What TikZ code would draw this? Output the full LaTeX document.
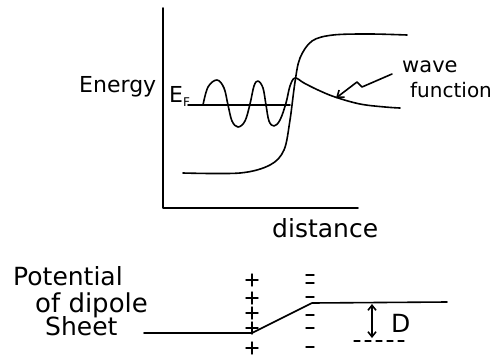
\documentclass[tikz,border=0pt]{standalone}
\usepackage{fontspec}
\setmainfont{DejaVu Sans}
\usetikzlibrary{arrows.meta}
\begin{document}
\begin{tikzpicture}[x=1pt,y=-1pt, line cap=round, line join=round,
  pen/.style={line width=1.6pt},
  lbl/.style={inner sep=0pt, anchor=base west, font=\fontsize{#1}{#1}\selectfont},
  lbl/.default=22,
  barb/.style={-{Straight Barb[length=6pt,width=9pt]}},
  dbarb/.style={{Straight Barb[length=5pt,width=8pt]}-{Straight Barb[length=5pt,width=8pt]}}]
\useasboundingbox (0,0) rectangle (493,357);
% axes
\coordinate (ytop) at (163,8);
\coordinate (origin) at (163,208);
\coordinate (xend) at (358,208);
\draw[pen] (ytop) -- (origin) -- (xend);
% labels
\node[lbl=22] (energy) at (79,92) {Energy};
\node[lbl=22] (ef) at (169,102) {E\raisebox{-4pt}{\fontsize{12}{12}\selectfont F}};
\node[lbl=25] (dist) at (272,237) {distance};
\node[lbl=21] (wave) at (402,72) {wave};
\node[lbl=20] (func) at (410,97) {function};
% Fermi level
\coordinate (efa) at (188,105);
\coordinate (efb) at (290,105);
\draw[pen] (efa) -- (efb);
% potential curve
\draw[pen] plot[smooth, tension=0.55] coordinates {(183,173)(240,173)(270,165)(284,150)(290,120)(295,82)(300,58)(312,41)(333,35)(370,34)(407,35)};
% wave function
\draw[pen] plot[smooth, tension=0.6] coordinates {(203,105)(208,87)(217,80)(224,88)(228,105)(232,121)(238,127)(245,121)(250,104)(254,86)(258,81)(263,88)(266,105)(269,121)(274,126)(280,120)(286,103)(290,86)(295,78)(304,83)(318,90)(335,97)(360,104)(385,107)(400,108)};
% squiggle arrow
\coordinate (wstart) at (392,74);
\coordinate (wtip) at (336,98);
\draw[pen, barb] (wstart) -- (362,87) -- (357,82) -- (wtip);
% bottom part
\node[lbl=25] (pot) at (13,285) {Potential};
\node[lbl=26] (dip) at (35,312) {of dipole};
\node[lbl=25] (sheet) at (45,335) {Sheet};
\coordinate (pa) at (144,333);
\coordinate (pb) at (252,333);
\coordinate (pc) at (312,303);
\coordinate (pd) at (447,302);
\draw[pen] (pa) -- (pb) -- (pc) -- (pd);
% charges
\foreach \y in {280,298,313,328,348}
  \draw[line width=1.4pt] (246,\y) -- (258,\y) (252,\y-6) -- (252,\y+6);
\foreach \y in {275,283,297,315,328,347}
  \draw[line width=1.4pt] (306,\y) -- (314,\y);
% D
\coordinate (dtop) at (372,304);
\coordinate (dbot) at (372,338);
\draw[pen, dbarb] (dtop) -- (dbot);
\node[lbl=25] (dlab) at (391,332) {D};
\coordinate (dsa) at (354,341);
\coordinate (dsb) at (408,341);
\draw[line width=1.3pt, dash pattern=on 6pt off 5pt] (dsa) -- (dsb);
\end{tikzpicture}
\end{document}
